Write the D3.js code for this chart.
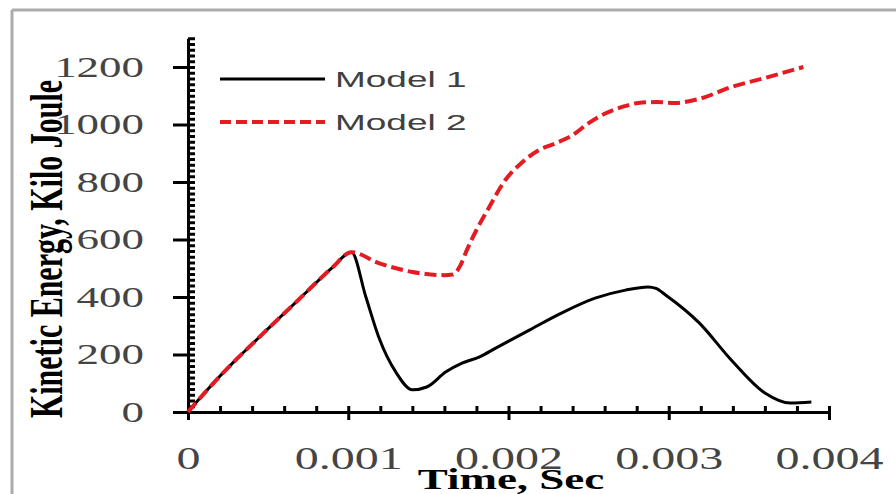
<!DOCTYPE html>
<html>
<head>
<meta charset="utf-8">
<script src="https://cdn.jsdelivr.net/npm/d3@7"></script>
<style>
  html, body { margin: 0; padding: 0; background: #fff; }
  svg { display: block; }
</style>
</head>
<body>
<div id="chart"></div>
<script>
// time (sec) and kinetic energy (kJ)
const timeModel1 = [0, 0.0001, 0.0002, 0.0003, 0.0004, 0.0005, 0.0006, 0.0007, 0.0008, 0.0009, 0.00102,
  0.00111, 0.00119, 0.0013, 0.0014, 0.00149, 0.00161, 0.00171, 0.00182, 0.00192, 0.00213,
  0.00233, 0.00254, 0.00273, 0.00287, 0.00292, 0.00298, 0.00319, 0.00339, 0.0036, 0.00376, 0.00389];
const energyModel1 = [0, 64, 125, 182, 236, 290, 343, 396, 450, 502, 556,
  400, 261, 136, 77, 87, 140, 170, 192, 222, 285,
  344, 396, 424, 435, 430, 407, 310, 181, 66, 31, 35];

const timeModel2 = [0, 0.0001, 0.0002, 0.0003, 0.0004, 0.0005, 0.0006, 0.0007, 0.0008, 0.0009, 0.00102,
  0.00119, 0.0014, 0.0016, 0.00165, 0.0017, 0.00174, 0.0018, 0.00188, 0.00198, 0.00208,
  0.00219, 0.0023, 0.0024, 0.0025, 0.00261, 0.00271, 0.00281, 0.00292, 0.00304, 0.00319,
  0.00339, 0.0036, 0.00384];
const energyModel2 = [0, 64, 125, 182, 236, 290, 343, 396, 450, 502, 556,
  518, 487, 476, 478, 510, 563, 633, 713, 807, 866,
  911, 936, 963, 1005, 1040, 1061, 1075, 1078, 1075, 1089,
  1130, 1162, 1200];

const seriesNames = ["Model 1", "Model 2"];
const xTicks = [0, 0.001, 0.002, 0.003, 0.004];
const yTicks = [0, 200, 400, 600, 800, 1000, 1200];

const width = 896, height = 494;
const stretch = 1.55; // the picture is widened, text too
const serif = "'Liberation Serif', 'Times New Roman', serif";

const svg = d3.select("#chart").append("svg")
  .attr("width", width)
  .attr("height", height);

// grey frame, top and left only
svg.append("line").attr("x1", 12).attr("y1", 10).attr("x2", width).attr("y2", 10)
  .attr("stroke", "#ababab").attr("stroke-width", 3);
svg.append("line").attr("x1", 12).attr("y1", 10).attr("x2", 12).attr("y2", height)
  .attr("stroke", "#ababab").attr("stroke-width", 3);

const x = d3.scaleLinear().domain([0, 0.004]).range([188, 829]);
const y = d3.scaleLinear().domain([0, 1300]).range([412, 38.25]);

// x axis
const xAxisG = svg.append("g").attr("transform", "translate(0," + y(0) + ")");
xAxisG.append("g")
  .call(d3.axisTop(x).tickValues(d3.range(0, 21).map(i => i * 0.0002)).tickSize(6).tickSizeOuter(0).tickFormat(""))
  .call(g => g.select(".domain").remove());
xAxisG.append("g")
  .call(d3.axisBottom(x).tickValues(xTicks).tickSize(8).tickSizeOuter(0)
    .tickFormat(d => d === 0 ? "0" : d3.format(".3f")(d)))
  .attr("font-family", serif);
xAxisG.selectAll("path.domain").attr("stroke", "#000").attr("stroke-width", 3);
xAxisG.selectAll(".tick line").attr("stroke", "#000").attr("stroke-width", 3);
xAxisG.selectAll(".tick text")
  .attr("y", 0).attr("dy", null)
  .attr("transform", "translate(0,57) scale(" + stretch + ",1)")
  .style("font-family", serif)
  .style("font-size", "31px")
  .attr("fill", "#444");

// y axis
const yAxisG = svg.append("g").attr("transform", "translate(" + x(0) + ",0)");
yAxisG.append("g")
  .call(d3.axisRight(y).tickValues(d3.range(0, 66).map(i => i * 20)).tickSize(7).tickSizeOuter(0).tickFormat(""))
  .call(g => g.select(".domain").remove());
yAxisG.append("g")
  .call(d3.axisLeft(y).tickValues(yTicks).tickSize(15).tickSizeOuter(0).tickFormat(d3.format("d")))
  .attr("font-family", serif);
yAxisG.selectAll("path.domain").attr("stroke", "#000").attr("stroke-width", 3);
yAxisG.selectAll(".tick line").attr("stroke", "#000").attr("stroke-width", 3);
yAxisG.selectAll(".tick text")
  .attr("x", 0)
  .attr("transform", "translate(-44,0) scale(" + stretch + ",1)")
  .style("font-family", serif)
  .style("font-size", "29px")
  .attr("fill", "#444");

// lines
const line = d3.line()
  .x(d => x(d[0]))
  .y(d => y(d[1]))
  .curve(d3.curveMonotoneX);

svg.append("path")
  .datum(d3.zip(timeModel1, energyModel1))
  .attr("d", line)
  .attr("fill", "none")
  .attr("stroke", "#000")
  .attr("stroke-width", 3);

svg.append("path")
  .datum(d3.zip(timeModel2, energyModel2))
  .attr("d", line)
  .attr("fill", "none")
  .attr("stroke", "#e31b23")
  .attr("stroke-width", 4)
  .attr("stroke-dasharray", "12,5");

// legend
const legend = svg.append("g");
seriesNames.forEach((name, i) => {
  const ly = 79 + i * 43;
  legend.append("line")
    .attr("x1", 220).attr("x2", 325).attr("y1", ly).attr("y2", ly)
    .attr("stroke", i === 0 ? "#000" : "#e31b23")
    .attr("stroke-width", i === 0 ? 3 : 4)
    .attr("stroke-dasharray", i === 0 ? null : "11,5");
  legend.append("text")
    .attr("transform", "translate(335," + (ly + 8) + ") scale(1.68,1)")
    .style("font-family", "'Liberation Sans', Arial, sans-serif")
    .style("font-size", "22px")
    .attr("fill", "#404040")
    .text(name);
});

// axis titles
svg.append("text")
  .attr("transform", "translate(62,249) scale(" + stretch + ",1) rotate(-90)")
  .attr("text-anchor", "middle")
  .style("font-family", serif)
  .style("font-size", "30px")
  .style("font-weight", "bold")
  .attr("fill", "#000")
  .text("Kinetic Energy, Kilo Joule");

svg.append("text")
  .attr("transform", "translate(511,489) scale(1.5,1)")
  .attr("text-anchor", "middle")
  .style("font-family", serif)
  .style("font-size", "30px")
  .style("font-weight", "bold")
  .attr("fill", "#000")
  .text("Time, Sec");
</script>
</body>
</html>
